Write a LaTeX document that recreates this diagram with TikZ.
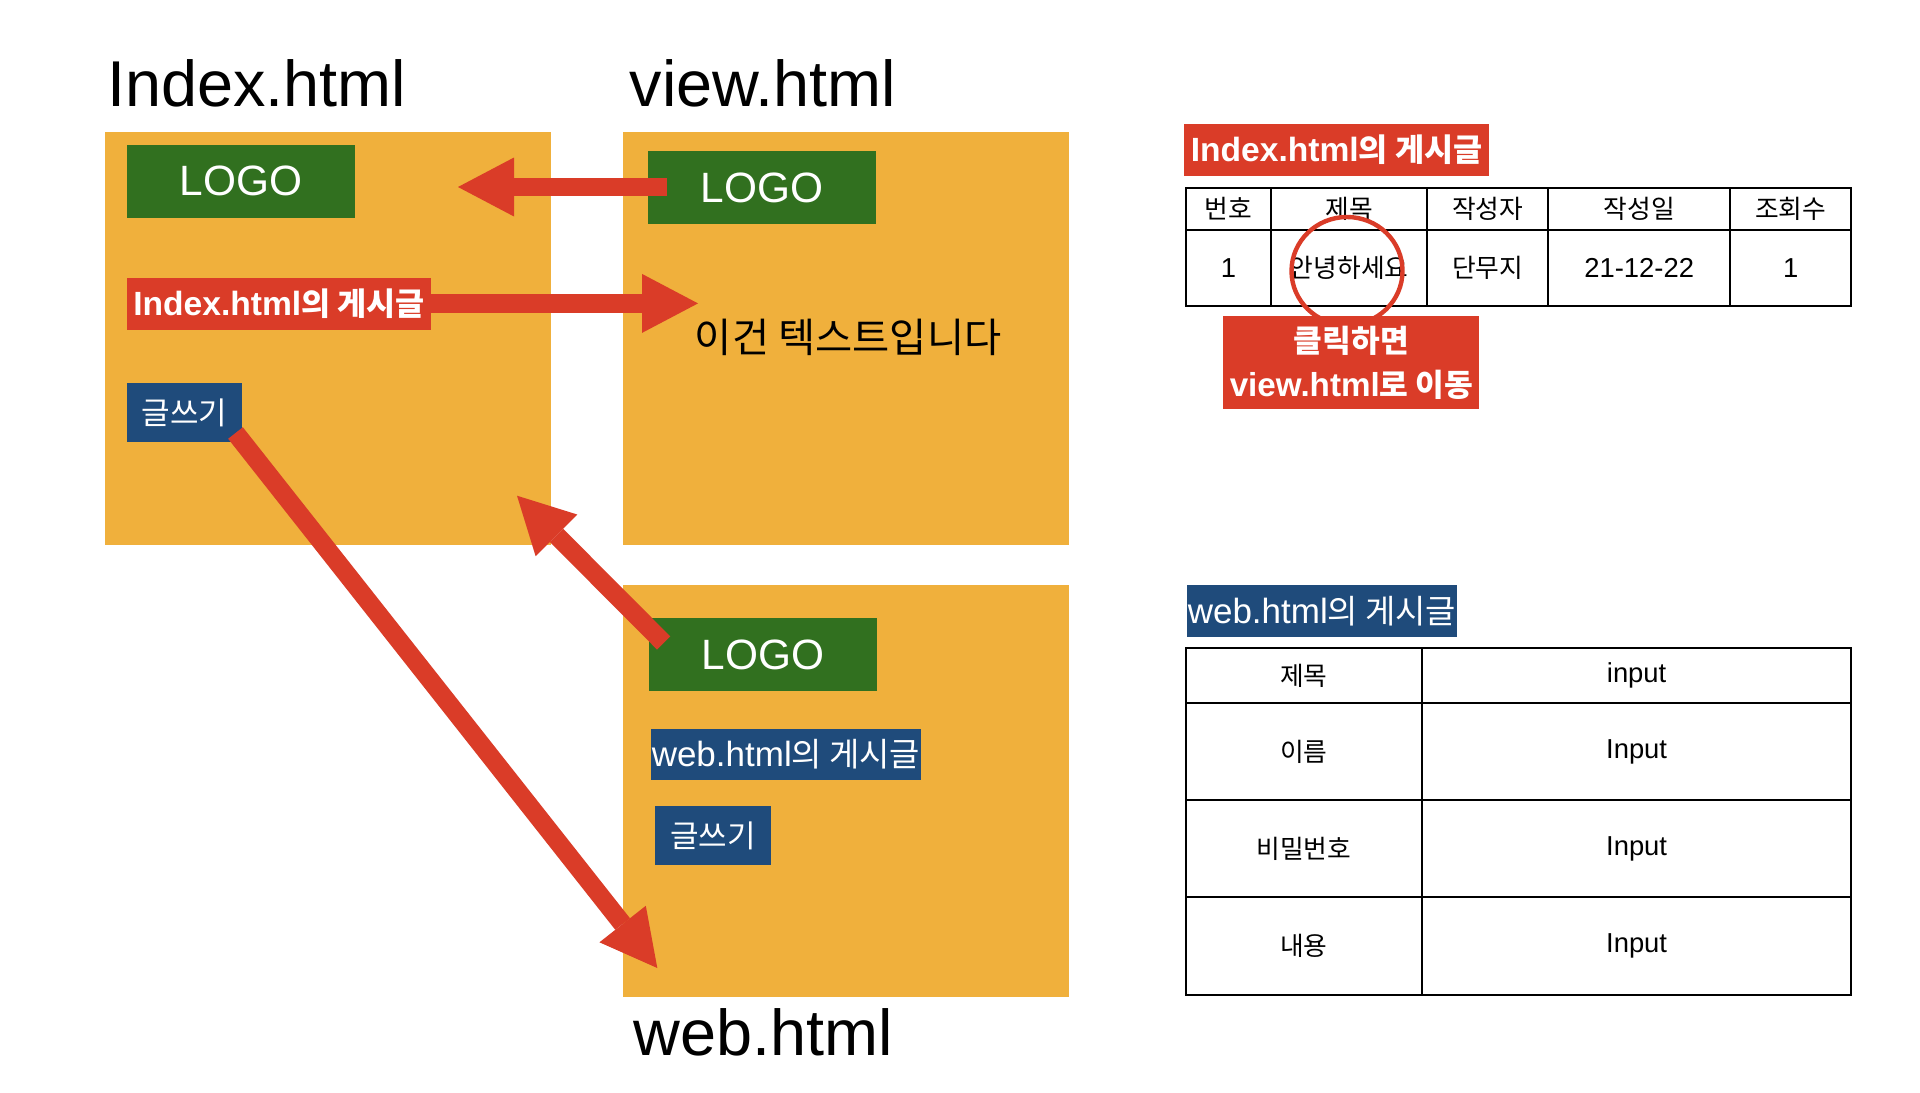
\documentclass[tikz,border=0pt]{standalone}
\usepackage{fontspec}
\setmainfont{Liberation Sans}
\newfontfamily\kr[Scale=0.94]{Noto Sans CJK KR}
\usetikzlibrary{arrows.meta}
\definecolor{pageor}{HTML}{F0B03C}
\definecolor{logogr}{HTML}{31701F}
\definecolor{lblred}{HTML}{DA3C28}
\definecolor{lblblue}{HTML}{1F4B7B}
\newcommand{\fs}[1]{\fontsize{#1}{1.2\dimexpr#1\relax}\selectfont}
\begin{document}
\begin{tikzpicture}[x=0.5pt,y=-0.5pt,
  box/.style={anchor=north west, inner sep=0pt, outer sep=0pt},
  sz/.style 2 args={minimum width=#1*0.5pt, minimum height=#2*0.5pt},
  pagebox/.style={box, fill=pageor},
  logobox/.style={box, fill=logogr, text=white, font=\fs{21.2pt}},
  redlbl/.style={box, fill=lblred, text=white, font=\fs{16.8pt}\bfseries},
  bluelbl/.style={box, fill=lblblue, text=white, font=\fs{17.5pt}},
  title/.style={anchor=base west, inner sep=0pt, font=\fs{32.4pt}},
  cell/.style={inner sep=0pt, font=\fs{13.7pt}},
  grid/.style={line width=1pt, black},
  bigarrow/.style={lblred, line width=9.35pt, line cap=butt,
    -{Triangle[length=28pt,width=29.5pt,line width=0pt]}}]
\fill[white] (0,0) rectangle (1920,1092);
\useasboundingbox (0,0) rectangle (1920,1092);

% titles
\node[title] (tindex) at (106.6,106) {Index.html};
\node[title] (tview) at (629.3,106) {view.html};
\node[title] (tweb) at (633.5,1055) {web.html};

% page boxes
\node[pagebox, sz={446}{413}] (pindex) at (105,132) {};
\node[pagebox, sz={446}{413}] (pview) at (623,132) {};
\node[pagebox, sz={446}{412}] (pweb) at (623,584.5) {};

% index page
\node[logobox, sz={228}{72.5}] (ilogo) at (127,145) {LOGO};
\node[redlbl, sz={304}{52}] (ipost) at (127,278) {Index.html{\kr 의 게시글}};
\node[bluelbl, sz={115}{59}, font=\fs{16.5pt}] (iwrite) at (127,383) {\kr 글쓰기};

% view page
\node[logobox, sz={228}{73}] (vlogo) at (648,151) {LOGO};
\node[anchor=west, inner sep=0pt, font=\fs{21.5pt}] (vtext) at (694.5,337.5) {\kr 이건 텍스트입니다};

% web page
\node[logobox, sz={228}{73}] (wlogo) at (649,618) {LOGO};
\node[bluelbl, sz={270}{51}] (wpost) at (651,729) {web.html{\kr 의 게시글}};
\node[bluelbl, sz={116}{59}, font=\fs{16.5pt}] (wwrite) at (655,806) {\kr 글쓰기};

% arrow end points
\coordinate (a1s) at (667,187);
\coordinate (a1e) at (458,187);
\coordinate (a2s) at (431,303.4);
\coordinate (a2e) at (698,303.4);
\coordinate (a3s) at (235.5,433);
\coordinate (a3e) at (657.3,968);
\coordinate (a4s) at (663.7,643);
\coordinate (a4e) at (517,495.7);

\draw[bigarrow] (a1s) -- (a1e);
\draw[bigarrow] (a2s) -- (a2e);
\draw[bigarrow] (a3s) -- (a3e);
\draw[bigarrow] (a4s) -- (a4e);

% ---- right side: table 1
\node[redlbl, sz={305}{52}] (t1lbl) at (1184,124) {Index.html{\kr 의 게시글}};
\draw[grid] (1185.7,188) rectangle (1851.1,306.3);
\draw[grid] (1185.7,230.3) -- (1851.1,230.3);
\foreach \xx in {1271.1,1427.3,1548.1,1730.3} \draw[grid] (\xx,188) -- (\xx,306.3);
\node[cell] (h1) at (1228.4,208.5) {\kr 번호};
\node[cell] (h2) at (1349.2,208.5) {\kr 제목};
\node[cell] (h3) at (1487.7,208.5) {\kr 작성자};
\node[cell] (h4) at (1639.2,208.5) {\kr 작성일};
\node[cell] (h5) at (1790.7,208.5) {\kr 조회수};
\node[cell] (r1) at (1228.4,268.3) {1};
\node[cell] (r2) at (1349.2,268.3) {\kr 안녕하세요};
\node[cell] (r3) at (1487.7,268.3) {\kr 단무지};
\node[cell] (r4) at (1639.2,268.3) {21-12-22};
\node[cell] (r5) at (1790.7,268.3) {1};
\coordinate (circ) at (1347,271);
\draw[lblred, line width=2.2pt] (circ) ellipse [x radius=55.5, y radius=54];
\node[redlbl, sz={256}{93}, align=center, font=\fontsize{16.6pt}{22pt}\selectfont\bfseries] (click) at (1223.4,316) {{\kr 클릭하면}\\view.html{\kr 로 이동}};

% ---- right side: table 2
\node[bluelbl, sz={270}{52}] (t2lbl) at (1187,585) {web.html{\kr 의 게시글}};
\draw[grid] (1185.7,648.3) rectangle (1851.1,995.3);
\foreach \yy in {703.3,800.3,897.3} \draw[grid] (1185.7,\yy) -- (1851.1,\yy);
\draw[grid] (1422.1,648.3) -- (1422.1,995.3);
\node[cell] (f1) at (1303.9,675.8) {\kr 제목};
\node[cell] (f2) at (1303.9,751.8) {\kr 이름};
\node[cell] (f3) at (1303.9,848.8) {\kr 비밀번호};
\node[cell] (f4) at (1303.9,946.3) {\kr 내용};
\node[cell] (v1) at (1636.6,675.8) {input};
\node[cell] (v2) at (1636.6,751.8) {Input};
\node[cell] (v3) at (1636.6,848.8) {Input};
\node[cell] (v4) at (1636.6,946.3) {Input};
\end{tikzpicture}
\end{document}
